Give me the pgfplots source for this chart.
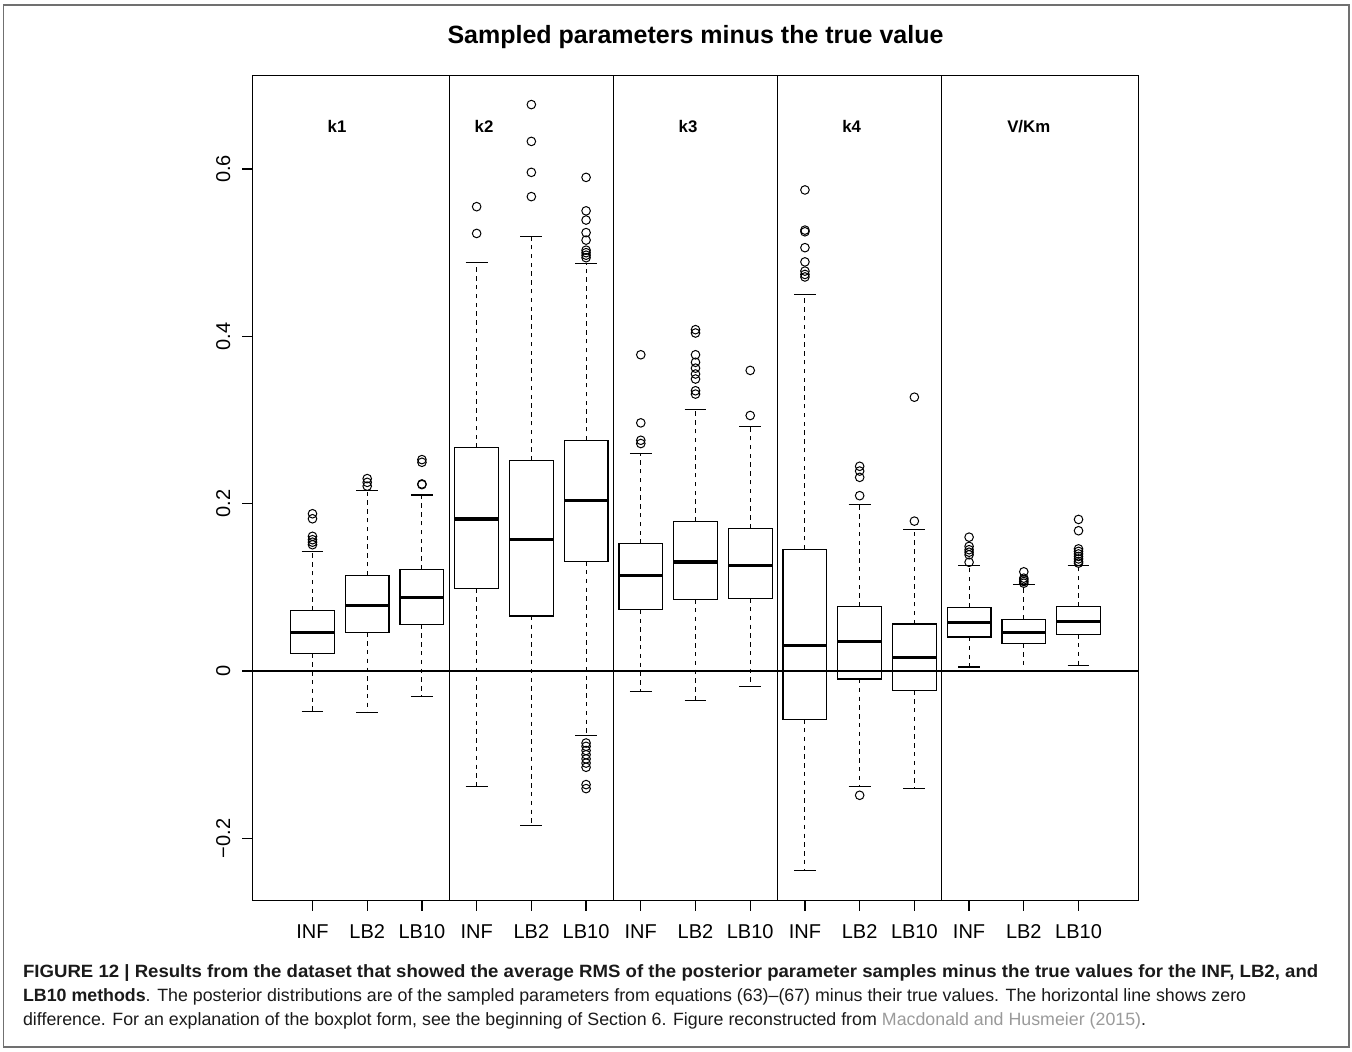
\documentclass[border=0pt]{standalone}
\usepackage{pgfplots}
\pgfplotsset{compat=1.18}
\usepgfplotslibrary{statistics}
\usepackage{graphicx}
\usepackage{fontspec}
\setmainfont{Liberation Sans}
\definecolor{framegray}{HTML}{707070}
\definecolor{linkgray}{HTML}{9A9A9A}
\definecolor{captext}{HTML}{1A1A1A}
\pgfplotsset{
  rb/.style={black, mark=o, mark size=2.15pt, mark options={line width=0.5pt, solid},
    boxplot/draw direction=y, boxplot/box extend=0.8, boxplot/whisker extend=0,
    boxplot/every whisker/.style={line width=0.55pt, dash pattern=on 2.2pt off 2.2pt},
    boxplot/every box/.style={line width=0.6pt},
    boxplot/every median/.style={line width=1.8pt}},
  rcap/.style={black, no marks,
    boxplot/draw direction=y, boxplot/box extend=0.8, boxplot/whisker extend=0.4,
    boxplot/every whisker/.style={line width=0.55pt, solid},
    boxplot/every box/.style={draw=none},
    boxplot/every median/.style={draw=none}},
}
\newcommand{\rcap}[3]{\addplot[rcap, boxplot prepared={draw position=#1, lower whisker=#2, lower quartile=#2, median=#2, upper quartile=#3, upper whisker=#3}] coordinates {};}
\begin{document}
\begin{tikzpicture}
\useasboundingbox (0,0) rectangle (676pt,-525.5pt);
\draw[framegray, line width=0.75pt] (1.65pt,-2.5pt) rectangle (674.5pt,-523.5pt);
\node[anchor=base, font=\bfseries\fontsize{12.5}{15}\selectfont] at (347.75pt,-21.65pt) {Sampled parameters minus the true value};
\begin{axis}[
  at={(126.15pt,-450.35pt)}, anchor=south west,
  scale only axis, width=443.2pt, height=412.5pt,
  xmin=-0.1, xmax=16.1, ymin=-0.2745, ymax=0.7115,
  axis line style={line width=0.6pt},
  tick pos=left, tick align=outside, major tick length=5pt,
  every tick/.style={black, line width=0.6pt},
  xtick={1,2,3,4,5,6,7,8,9,10,11,12,13,14,15},
  xticklabels={INF,LB2,LB10,INF,LB2,LB10,INF,LB2,LB10,INF,LB2,LB10,INF,LB2,LB10},
  ytick={-0.2,0,0.2,0.4,0.6},
  yticklabels={−0.2,0,0.2,0.4,0.6},
  ticklabel style={font=\fontsize{10}{12}\selectfont},
  yticklabel style={rotate=90, anchor=south},
  xticklabel style={anchor=north},
  yticklabel shift=2.5pt,
  xticklabel shift=3.5pt,
  clip=false,
]
\addplot[black, line width=0.6pt, no marks] coordinates {(-0.1,0) (16.1,0)};
\addplot[black, line width=0.6pt, no marks] coordinates {(3.5,-0.2745) (3.5,0.7115)};
\addplot[black, line width=0.6pt, no marks] coordinates {(6.5,-0.2745) (6.5,0.7115)};
\addplot[black, line width=0.6pt, no marks] coordinates {(9.5,-0.2745) (9.5,0.7115)};
\addplot[black, line width=0.6pt, no marks] coordinates {(12.5,-0.2745) (12.5,0.7115)};
% k1
\addplot[rb, boxplot prepared={draw position=1, lower whisker=-0.048, lower quartile=0.0208, median=0.0463, upper quartile=0.0723, upper whisker=0.1425}]
  table[row sep=\\, y index=0] {data\\ 0.188\\ 0.182\\ 0.161\\ 0.157\\ 0.154\\ 0.151\\};
\addplot[rb, boxplot prepared={draw position=2, lower whisker=-0.0495, lower quartile=0.0463, median=0.0782, upper quartile=0.1146, upper whisker=0.216}]
  table[row sep=\\, y index=0] {data\\ 0.230\\ 0.2255\\ 0.221\\};
\addplot[rb, boxplot prepared={draw position=3, lower whisker=-0.0303, lower quartile=0.0555, median=0.0878, upper quartile=0.1214, upper whisker=0.2104}]
  table[row sep=\\, y index=0] {data\\ 0.2527\\ 0.2495\\ 0.2236\\ 0.2228\\};
% k2
\addplot[rb, boxplot prepared={draw position=4, lower whisker=-0.1385, lower quartile=0.0986, median=0.182, upper quartile=0.2667, upper whisker=0.4886}]
  table[row sep=\\, y index=0] {data\\ 0.555\\ 0.523\\};
\addplot[rb, boxplot prepared={draw position=5, lower whisker=-0.185, lower quartile=0.0659, median=0.1573, upper quartile=0.2515, upper whisker=0.519}]
  table[row sep=\\, y index=0] {data\\ 0.677\\ 0.633\\ 0.596\\ 0.567\\};
\addplot[rb, boxplot prepared={draw position=6, lower whisker=-0.0766, lower quartile=0.1313, median=0.204, upper quartile=0.2758, upper whisker=0.487}]
  table[row sep=\\, y index=0] {data\\ 0.590\\ 0.550\\ 0.539\\ 0.524\\ 0.515\\ 0.503\\ 0.500\\ 0.497\\ 0.494\\ -0.086\\ -0.090\\ -0.095\\ -0.100\\ -0.105\\ -0.110\\ -0.115\\ -0.1357\\ -0.1405\\};
% k3
\addplot[rb, boxplot prepared={draw position=7, lower whisker=-0.0248, lower quartile=0.0731, median=0.1142, upper quartile=0.1521, upper whisker=0.2603}]
  table[row sep=\\, y index=0] {data\\ 0.378\\ 0.2966\\ 0.2758\\ 0.2719\\};
\addplot[rb, boxplot prepared={draw position=8, lower whisker=-0.0347, lower quartile=0.0858, median=0.1301, upper quartile=0.1788, upper whisker=0.3122}]
  table[row sep=\\, y index=0] {data\\ 0.408\\ 0.404\\ 0.378\\ 0.369\\ 0.362\\ 0.355\\ 0.349\\ 0.335\\ 0.331\\};
\addplot[rb, boxplot prepared={draw position=9, lower whisker=-0.0188, lower quartile=0.087, median=0.1262, upper quartile=0.1705, upper whisker=0.2926}]
  table[row sep=\\, y index=0] {data\\ 0.3593\\ 0.3054\\};
% k4
\addplot[rb, boxplot prepared={draw position=10, lower whisker=-0.2387, lower quartile=-0.0575, median=0.0303, upper quartile=0.1457, upper whisker=0.450}]
  table[row sep=\\, y index=0] {data\\ 0.575\\ 0.527\\ 0.525\\ 0.506\\ 0.489\\ 0.478\\ 0.474\\ 0.471\\};
\addplot[rb, boxplot prepared={draw position=11, lower whisker=-0.1385, lower quartile=-0.0096, median=0.0351, upper quartile=0.077, upper whisker=0.1988}]
  table[row sep=\\, y index=0] {data\\ 0.2447\\ 0.239\\ 0.2315\\ 0.2096\\ -0.1485\\};
\addplot[rb, boxplot prepared={draw position=12, lower whisker=-0.1405, lower quartile=-0.0232, median=0.0164, upper quartile=0.0563, upper whisker=0.1693}]
  table[row sep=\\, y index=0] {data\\ 0.3273\\ 0.1792\\};
% V/Km
\addplot[rb, boxplot prepared={draw position=13, lower whisker=0.0048, lower quartile=0.0407, median=0.0579, upper quartile=0.0758, upper whisker=0.1265}]
  table[row sep=\\, y index=0] {data\\ 0.160\\ 0.149\\ 0.145\\ 0.142\\ 0.139\\ 0.130\\};
\addplot[rb, boxplot prepared={draw position=14, lower whisker=0.0004, lower quartile=0.0331, median=0.0463, upper quartile=0.0619, upper whisker=0.1034}]
  table[row sep=\\, y index=0] {data\\ 0.1186\\ 0.111\\ 0.109\\ 0.107\\ 0.105\\};
\addplot[rb, boxplot prepared={draw position=15, lower whisker=0.0068, lower quartile=0.044, median=0.059, upper quartile=0.077, upper whisker=0.1265}]
  table[row sep=\\, y index=0] {data\\ 0.1812\\ 0.1677\\ 0.146\\ 0.143\\ 0.140\\ 0.137\\ 0.134\\ 0.131\\ 0.129\\};
% solid whisker caps (same whisker values)
\rcap{1}{-0.048}{0.1425}
\rcap{2}{-0.0495}{0.216}
\rcap{3}{-0.0303}{0.2104}
\rcap{4}{-0.1385}{0.4886}
\rcap{5}{-0.185}{0.519}
\rcap{6}{-0.0766}{0.487}
\rcap{7}{-0.0248}{0.2603}
\rcap{8}{-0.0347}{0.3122}
\rcap{9}{-0.0188}{0.2926}
\rcap{10}{-0.2387}{0.450}
\rcap{11}{-0.1385}{0.1988}
\rcap{12}{-0.1405}{0.1693}
\rcap{13}{0.0048}{0.1265}
\rcap{14}{0.0004}{0.1034}
\rcap{15}{0.0068}{0.1265}
% group labels
\node[font=\bfseries\fontsize{8.4}{10}\selectfont] at (axis cs:1.448,0.651) {k1};
\node[font=\bfseries\fontsize{8.4}{10}\selectfont] at (axis cs:4.135,0.651) {k2};
\node[font=\bfseries\fontsize{8.4}{10}\selectfont] at (axis cs:7.863,0.651) {k3};
\node[font=\bfseries\fontsize{8.4}{10}\selectfont] at (axis cs:10.855,0.651) {k4};
\node[font=\bfseries\fontsize{8.4}{10}\selectfont] at (axis cs:14.09,0.651) {V/Km};
\end{axis}
\node[anchor=base west, inner sep=0, text=captext, font=\fontsize{8.9}{10}\selectfont] at (11.35pt,-488.65pt)
  {\scalebox{1.045}[1]{\bfseries FIGURE 12 | Results from the dataset that showed the average RMS of the posterior parameter samples minus the true values for the INF, LB2, and}};
\node[anchor=base west, inner sep=0, text=captext, font=\fontsize{8.9}{10}\selectfont] at (11.35pt,-500.75pt)
  {{\bfseries LB10 methods}. The posterior distributions are of the sampled parameters from equations (63)–(67) minus their true values. The horizontal line shows zero};
\node[anchor=base west, inner sep=0, text=captext, font=\fontsize{8.9}{10}\selectfont] at (11.35pt,-512.5pt)
  {difference. For an explanation of the boxplot form, see the beginning of Section 6. Figure reconstructed from \textcolor{linkgray}{Macdonald and Husmeier (2015)}.};
\end{tikzpicture}
\end{document}
